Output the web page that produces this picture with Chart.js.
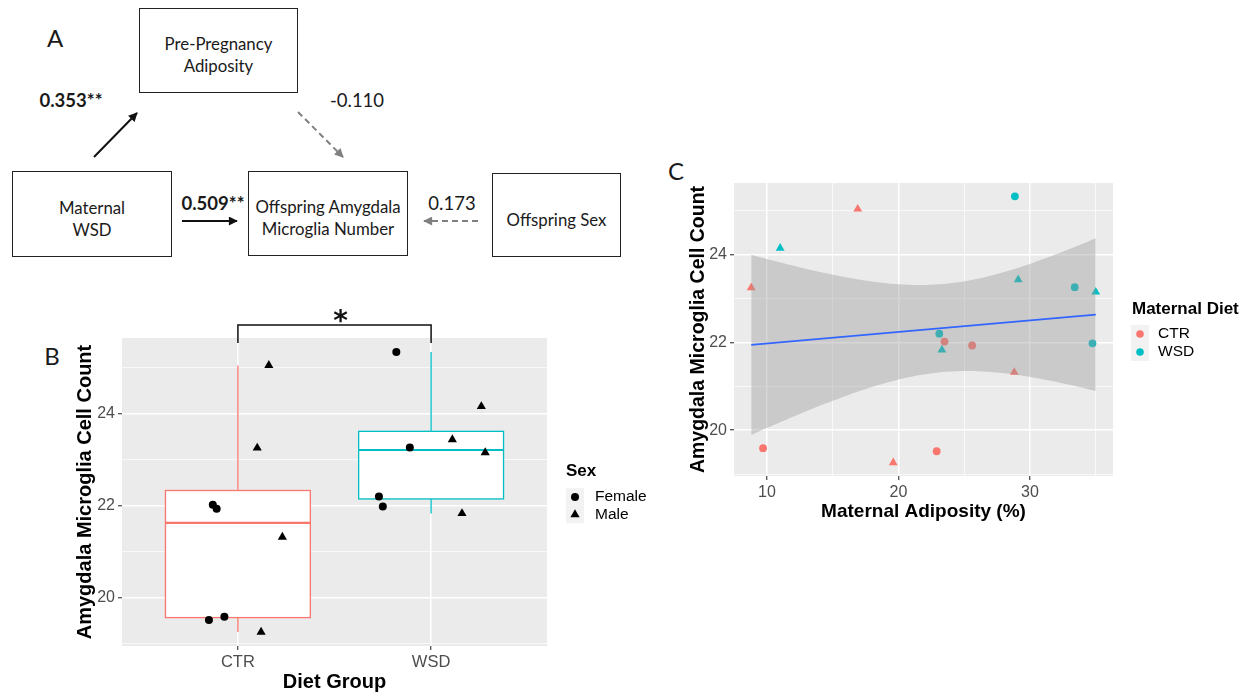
<!DOCTYPE html>
<html>
<head>
<meta charset="utf-8">
<script src="https://cdn.jsdelivr.net/npm/chart.js@4.4.1/dist/chart.umd.min.js"></script>
<style>
  html, body { margin: 0; padding: 0; background: #fff; }
  #fig { position: relative; width: 1245px; height: 694px; overflow: hidden; font-family: Lato, "Open Sans", sans-serif; color: #1a1a1a; }
  .node { position: absolute; box-sizing: border-box; border: 1.5px solid #222; display: flex; align-items: center; justify-content: center; text-align: center; font-size: 16.8px; line-height: 22px; padding-top: 9px; }
  .coef { position: absolute; font-size: 18.5px; white-space: nowrap; transform: translate(-50%, -50%); }
  .coef.bold { font-weight: 700; }
  .panel { position: absolute; font-size: 24px; transform: translate(-50%, -50%); }
  canvas { position: absolute; }
  svg { position: absolute; left: 0; top: 0; }
</style>
</head>
<body>
<div id="fig">
  <!-- Panel A: path model -->
  <div class="panel" style="left:55px; top:37px;">A</div>
  <div class="node" style="left:139px; top:8px; width:159px; height:85px;">Pre-Pregnancy<br>Adiposity</div>
  <div class="node" style="left:12px; top:171px; width:160px; height:86px;">Maternal<br>WSD</div>
  <div class="node" style="left:248px; top:171px; width:160px; height:85px;">Offspring Amygdala<br>Microglia Number</div>
  <div class="node" style="left:492px; top:173px; width:129px; height:84px;">Offspring Sex</div>
  <svg width="640" height="270" viewBox="0 0 640 270">
    <defs>
      <marker id="headSolid" viewBox="0 0 10 10" refX="9" refY="5" markerWidth="10" markerHeight="9" orient="auto" markerUnits="userSpaceOnUse">
        <path d="M0,0 L10,5 L0,10 z" fill="#111"/>
      </marker>
      <marker id="headDash" viewBox="0 0 10 10" refX="9" refY="5" markerWidth="10" markerHeight="9" orient="auto" markerUnits="userSpaceOnUse">
        <path d="M0,0 L10,5 L0,10 z" fill="#808080"/>
      </marker>
    </defs>
    <line x1="94" y1="157" x2="137" y2="113" stroke="#111" stroke-width="2" marker-end="url(#headSolid)"/>
    <line x1="182" y1="221" x2="237" y2="221" stroke="#111" stroke-width="2" marker-end="url(#headSolid)"/>
    <line x1="298" y1="112" x2="343" y2="157" stroke="#808080" stroke-width="2" stroke-dasharray="6 4" marker-end="url(#headDash)"/>
    <line x1="478" y1="221" x2="424" y2="221" stroke="#808080" stroke-width="2" stroke-dasharray="6 4" marker-end="url(#headDash)"/>
  </svg>
  <div class="coef bold" style="left:71px; top:100px;">0.353**</div>
  <div class="coef" style="left:357px; top:100px;">-0.110</div>
  <div class="coef bold" style="left:213px; top:203px;">0.509**</div>
  <div class="coef" style="left:452px; top:203px;">0.173</div>

  <!-- Panel B and C labels -->
  <div class="panel" style="left:52px; top:355px;">B</div>
  <div class="panel" style="left:676px; top:170px;">C</div>

  <canvas id="boxChart" width="640" height="404" style="left:40px; top:290px; width:640px; height:404px;"></canvas>
  <canvas id="scatterChart" width="595" height="380" style="left:650px; top:150px; width:595px; height:380px;"></canvas>
</div>

<script>
// ---- data ----
const dietGroups = ['CTR', 'WSD'];
const dietColors = ['#F8766D', '#00BFC4'];

// Control diet offspring
const ctrCount     = [25.04, 23.25, 22.02, 21.93, 21.32, 19.59, 19.52, 19.26];
const ctrSex       = ['Male', 'Male', 'Female', 'Female', 'Male', 'Female', 'Female', 'Male'];
const ctrAdiposity = [16.9, 8.8, 23.5, 25.6, 28.8, 9.7, 22.9, 19.6];
const ctrJitter    = [1.16, 1.10, 0.87, 0.89, 1.23, 0.93, 0.85, 1.12];

// Western-style diet offspring
const wsdCount     = [25.33, 24.15, 23.43, 23.26, 23.15, 22.20, 21.98, 21.83];
const wsdSex       = ['Female', 'Male', 'Male', 'Female', 'Male', 'Female', 'Female', 'Male'];
const wsdAdiposity = [28.85, 11.0, 29.1, 33.4, 35.0, 23.1, 34.75, 23.3];
const wsdJitter    = [1.82, 2.26, 2.11, 1.89, 2.28, 1.73, 1.75, 2.16];

const sexLevels = ['Female', 'Male'];
const countTicks = [19, 20, 21, 22, 23, 24, 25];
const countLabels = [20, 22, 24];
const adiposityTicks = [10, 15, 20, 25, 30, 35];
const adiposityLabels = [10, 20, 30];

// ---- helpers ----
const TICK_FONT = 'Liberation Sans, Arial, sans-serif';
const panelBg = '#EBEBEB';
const shapeOf = s => (s === 'Male' ? 'triangle' : 'circle');

function quantile(sorted, p) {
  const h = (sorted.length - 1) * p, lo = Math.floor(h);
  const hi = Math.min(lo + 1, sorted.length - 1);
  return sorted[lo] + (h - lo) * (sorted[hi] - sorted[lo]);
}
function boxStats(vals) {
  const s = [...vals].sort((a, b) => a - b);
  const q1 = quantile(s, 0.25), med = quantile(s, 0.5), q3 = quantile(s, 0.75);
  const iqr = q3 - q1;
  const lo = Math.min(...s.filter(v => v >= q1 - 1.5 * iqr));
  const hi = Math.max(...s.filter(v => v <= q3 + 1.5 * iqr));
  return { q1, med, q3, lo, hi };
}
function paddedRange(vals, frac) {
  const mn = Math.min(...vals), mx = Math.max(...vals), pad = (mx - mn) * frac;
  return [mn - pad, mx + pad];
}

const allCounts = ctrCount.concat(wsdCount);
const [countMin, countMax] = paddedRange(allCounts, 0.05);

const panelBackground = {
  id: 'panelBackground',
  beforeDraw(chart) {
    const { ctx, chartArea: a } = chart;
    ctx.save();
    ctx.fillStyle = panelBg;
    ctx.fillRect(a.left, a.top, a.right - a.left, a.bottom - a.top);
    ctx.restore();
  }
};

function drawTitles(chart, xTitle, xPos, yTitle, yPos, xSize, ySize) {
  const ctx = chart.ctx;
  ctx.save();
  ctx.fillStyle = '#000';
  ctx.textAlign = 'center';
  ctx.textBaseline = 'middle';
  ctx.font = `bold ${xSize}px ${TICK_FONT}`;
  ctx.fillText(xTitle, xPos[0], xPos[1]);
  ctx.translate(yPos[0], yPos[1]);
  ctx.rotate(-Math.PI / 2);
  ctx.font = `bold ${ySize}px ${TICK_FONT}`;
  ctx.fillText(yTitle, 0, 0);
  ctx.restore();
}

function countAxis(width) {
  return {
    min: countMin, max: countMax,
    afterBuildTicks: s => { s.ticks = countTicks.map(v => ({ value: v })); },
    afterFit: s => { s.width = width; },
    border: { display: false },
    grid: {
      color: '#FFFFFF',
      lineWidth: c => (countLabels.includes(c.tick.value) ? 1.5 : 0.7),
      tickColor: c => (countLabels.includes(c.tick.value) ? '#333333' : 'rgba(0,0,0,0)'),
      tickWidth: 1.1,
      tickLength: 4
    },
    ticks: {
      autoSkip: false, padding: 3, color: '#4D4D4D',
      font: { family: TICK_FONT, size: 16 },
      callback: v => (countLabels.includes(v) ? String(v) : '')
    }
  };
}

// ---- Panel B: box plot by diet group ----
const groupCounts = [ctrCount, wsdCount];
const groupJitter = [ctrJitter, wsdJitter];
const groupSex = [ctrSex, wsdSex];

function sexPoints(sex) {
  const pts = [];
  groupCounts.forEach((counts, g) => counts.forEach((v, i) => {
    if (groupSex[g][i] === sex) pts.push({ x: groupJitter[g][i], y: v });
  }));
  return pts;
}

const boxLayer = {
  id: 'boxLayer',
  beforeDatasetsDraw(chart) {
    const { ctx } = chart, xs = chart.scales.x, ys = chart.scales.y;
    const half = (xs.getPixelForValue(1.375) - xs.getPixelForValue(1));
    groupCounts.forEach((vals, g) => {
      const st = boxStats(vals);
      const cx = xs.getPixelForValue(g + 1);
      ctx.save();
      ctx.strokeStyle = dietColors[g];
      ctx.lineWidth = 1.3;
      ctx.beginPath();
      ctx.moveTo(cx, ys.getPixelForValue(st.q3)); ctx.lineTo(cx, ys.getPixelForValue(st.hi));
      ctx.moveTo(cx, ys.getPixelForValue(st.q1)); ctx.lineTo(cx, ys.getPixelForValue(st.lo));
      ctx.stroke();
      const top = ys.getPixelForValue(st.q3), bot = ys.getPixelForValue(st.q1);
      ctx.fillStyle = '#FFFFFF';
      ctx.fillRect(cx - half, top, 2 * half, bot - top);
      ctx.strokeRect(cx - half, top, 2 * half, bot - top);
      ctx.lineWidth = 2.2;
      ctx.beginPath();
      const m = ys.getPixelForValue(st.med);
      ctx.moveTo(cx - half, m); ctx.lineTo(cx + half, m);
      ctx.stroke();
      ctx.restore();
    });
  },
  afterDraw(chart) {
    const { ctx, chartArea: a } = chart, xs = chart.scales.x;
    // significance bracket
    const x1 = xs.getPixelForValue(1), x2 = xs.getPixelForValue(2);
    ctx.save();
    ctx.strokeStyle = '#111';
    ctx.lineWidth = 1.5;
    ctx.beginPath();
    ctx.moveTo(x1, a.top + 5); ctx.lineTo(x1, a.top - 13); ctx.lineTo(x2, a.top - 13); ctx.lineTo(x2, a.top + 5);
    ctx.stroke();
    ctx.fillStyle = '#111';
    ctx.textAlign = 'center';
    ctx.textBaseline = 'alphabetic';
    ctx.font = 'bold 28px DejaVu Sans, sans-serif';
    ctx.fillText('*', (x1 + x2) / 2 + 6, a.top - 8);
    ctx.restore();

    drawTitles(chart, 'Diet Group', [(a.left + a.right) / 2, 392],
               'Amygdala Microglia Cell Count', [45, (a.top + a.bottom) / 2], 20, 20);

    // legend
    ctx.save();
    ctx.fillStyle = '#000';
    ctx.textBaseline = 'middle';
    ctx.textAlign = 'left';
    ctx.font = `bold 17px ${TICK_FONT}`;
    ctx.fillText('Sex', 526, 181);
    sexLevels.forEach((s, i) => {
      const cy = 207 + i * 17.5;
      ctx.fillStyle = '#F2F2F2';
      ctx.fillRect(526, cy - 8.75, 18, 17.5);
      ctx.fillStyle = '#000';
      ctx.beginPath();
      if (shapeOf(s) === 'circle') {
        ctx.arc(535, cy, 4, 0, Math.PI * 2);
      } else {
        const r = 5.3;
        ctx.moveTo(535, cy - r);
        ctx.lineTo(535 + r * Math.sin(2 * Math.PI / 3), cy - r * Math.cos(2 * Math.PI / 3));
        ctx.lineTo(535 - r * Math.sin(2 * Math.PI / 3), cy - r * Math.cos(2 * Math.PI / 3));
        ctx.closePath();
      }
      ctx.fill();
      ctx.font = `15.5px ${TICK_FONT}`;
      ctx.fillText(s, 555, cy);
    });
    ctx.restore();
  }
};

new Chart(document.getElementById('boxChart'), {
  type: 'scatter',
  data: {
    datasets: sexLevels.map(s => ({
      label: s,
      data: sexPoints(s),
      pointStyle: shapeOf(s),
      pointRadius: s === 'Male' ? 5.3 : 4,
      backgroundColor: '#000',
      borderWidth: 0
    }))
  },
  options: {
    responsive: false, animation: false, devicePixelRatio: 1,
    layout: { padding: { top: 48, right: 133, left: 0, bottom: 0 } },
    plugins: { legend: { display: false }, tooltip: { enabled: false } },
    scales: {
      x: {
        type: 'linear', min: 0.4, max: 2.6,
        afterBuildTicks: s => { s.ticks = dietGroups.map((_, i) => ({ value: i + 1 })); },
        afterFit: s => { s.height = 48; },
        border: { display: false },
        grid: { color: '#FFFFFF', lineWidth: 1.5, tickColor: '#333333', tickWidth: 1.1, tickLength: 4 },
        ticks: { autoSkip: false, padding: 3, color: '#4D4D4D', maxRotation: 0,
                 font: { family: TICK_FONT, size: 16.5 },
                 callback: v => dietGroups[Math.round(v) - 1] }
      },
      y: countAxis(82)
    }
  },
  plugins: [panelBackground, boxLayer]
});

// ---- Panel C: count vs maternal adiposity with linear fit ----
const allAdiposity = ctrAdiposity.concat(wsdAdiposity);
const [adipMin, adipMax] = paddedRange(allAdiposity, 0.05);

function linearFit(xs, ys) {
  const n = xs.length;
  const mx = xs.reduce((a, b) => a + b, 0) / n;
  const my = ys.reduce((a, b) => a + b, 0) / n;
  let sxx = 0, sxy = 0;
  xs.forEach((x, i) => { sxx += (x - mx) ** 2; sxy += (x - mx) * (ys[i] - my); });
  const slope = sxy / sxx, intercept = my - slope * mx;
  let sse = 0;
  xs.forEach((x, i) => { sse += (ys[i] - (intercept + slope * x)) ** 2; });
  return { n, mx, sxx, slope, intercept, s: Math.sqrt(sse / (n - 2)) };
}
const fit = linearFit(allAdiposity, allCounts);
const T_CRIT = 2.1448; // two-sided 95% t critical value, n - 2 = 14 degrees of freedom
const xLo = Math.min(...allAdiposity), xHi = Math.max(...allAdiposity);
const bandLower = [], bandUpper = [];
for (let i = 0; i < 80; i++) {
  const x = xLo + (xHi - xLo) * i / 79;
  const yhat = fit.intercept + fit.slope * x;
  const se = fit.s * Math.sqrt(1 / fit.n + (x - fit.mx) ** 2 / fit.sxx);
  bandLower.push({ x, y: yhat - T_CRIT * se });
  bandUpper.push({ x, y: yhat + T_CRIT * se });
}
const fitLine = [xLo, xHi].map(x => ({ x, y: fit.intercept + fit.slope * x }));

const groupAdiposity = [ctrAdiposity, wsdAdiposity];

const scatterDecor = {
  id: 'scatterDecor',
  afterDraw(chart) {
    const { ctx, chartArea: a } = chart;
    drawTitles(chart, 'Maternal Adiposity (%)', [(a.left + a.right) / 2, 362],
               'Amygdala Microglia Cell Count', [49, (a.top + a.bottom) / 2], 19, 19.5);
    ctx.save();
    ctx.fillStyle = '#000';
    ctx.textBaseline = 'middle';
    ctx.textAlign = 'left';
    ctx.font = `bold 17px ${TICK_FONT}`;
    ctx.fillText('Maternal Diet', 482, 159);
    dietGroups.forEach((g, i) => {
      const cy = 184 + i * 18;
      ctx.fillStyle = '#F2F2F2';
      ctx.fillRect(481, cy - 9, 18, 18);
      ctx.fillStyle = dietColors[i];
      ctx.beginPath();
      ctx.arc(490, cy, 3.8, 0, Math.PI * 2);
      ctx.fill();
      ctx.fillStyle = '#000';
      ctx.font = `15.5px ${TICK_FONT}`;
      ctx.fillText(g, 508, cy);
    });
    ctx.restore();
  }
};

new Chart(document.getElementById('scatterChart'), {
  type: 'scatter',
  data: {
    datasets: [
      ...dietGroups.map((g, gi) => ({
        label: g,
        order: 3,
        data: groupAdiposity[gi].map((x, i) => ({ x, y: groupCounts[gi][i] })),
        pointStyle: groupSex[gi].map(shapeOf),
        pointRadius: groupSex[gi].map(s => (s === 'Male' ? 5.1 : 3.9)),
        backgroundColor: dietColors[gi],
        borderWidth: 0
      })),
      { type: 'line', label: 'lower', order: 2, data: bandLower, showLine: true,
        borderWidth: 0, pointRadius: 0, fill: false },
      { type: 'line', label: 'upper', order: 2, data: bandUpper, showLine: true,
        borderWidth: 0, pointRadius: 0, fill: '-1', backgroundColor: 'rgba(153,153,153,0.4)' },
      { type: 'line', label: 'fit', order: 1, data: fitLine, showLine: true,
        borderColor: '#3366FF', borderWidth: 1.6, pointRadius: 0, fill: false }
    ]
  },
  options: {
    responsive: false, animation: false, devicePixelRatio: 1,
    layout: { padding: { top: 33, right: 132, left: 0, bottom: 0 } },
    plugins: { legend: { display: false }, tooltip: { enabled: false } },
    scales: {
      x: {
        type: 'linear', min: adipMin, max: adipMax,
        afterBuildTicks: s => { s.ticks = adiposityTicks.map(v => ({ value: v })); },
        afterFit: s => { s.height = 54; },
        border: { display: false },
        grid: {
          color: '#FFFFFF',
          lineWidth: c => (adiposityLabels.includes(c.tick.value) ? 1.5 : 0.7),
          tickColor: c => (adiposityLabels.includes(c.tick.value) ? '#333333' : 'rgba(0,0,0,0)'),
          tickWidth: 1.1, tickLength: 4
        },
        ticks: { autoSkip: false, padding: 3, color: '#4D4D4D', maxRotation: 0,
                 font: { family: TICK_FONT, size: 16 },
                 callback: v => (adiposityLabels.includes(v) ? String(v) : '') }
      },
      y: countAxis(84)
    }
  },
  plugins: [panelBackground, scatterDecor]
});
</script>
</body>
</html>
